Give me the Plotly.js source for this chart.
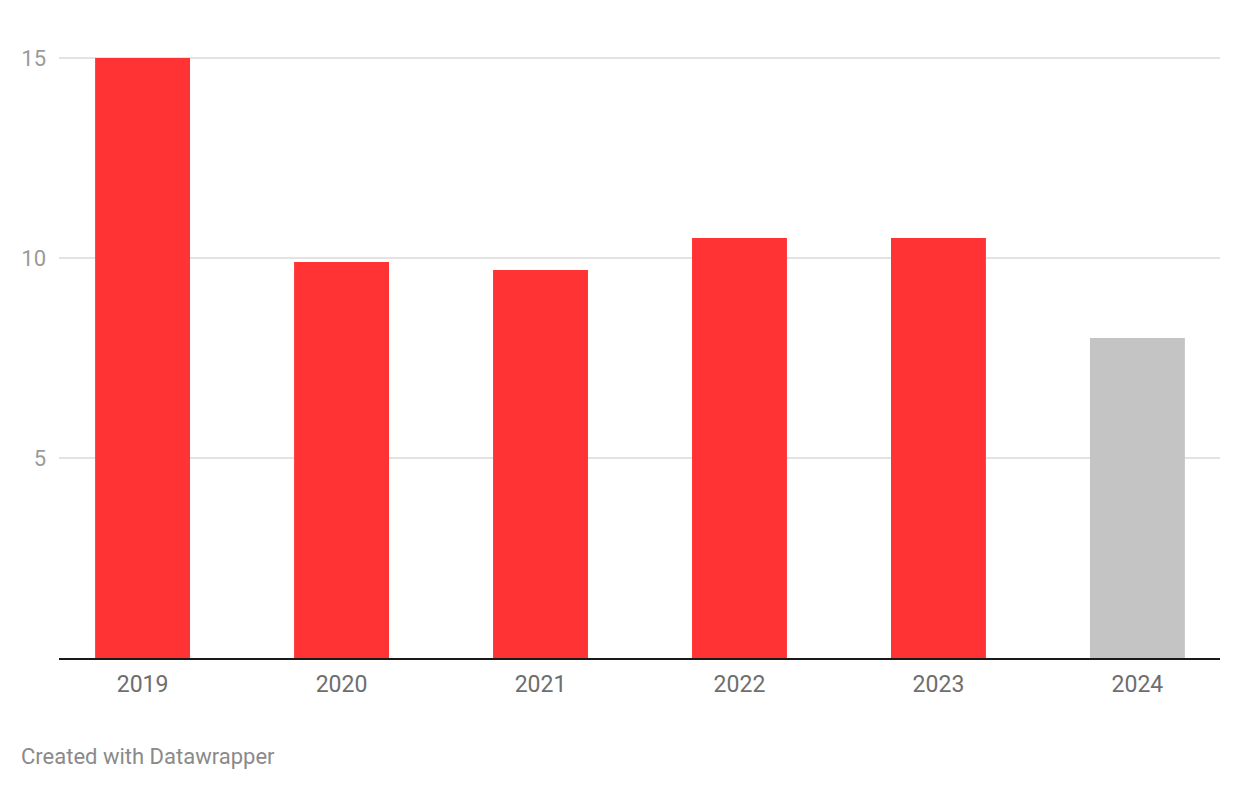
<!DOCTYPE html>
<html>
<head>
<meta charset="utf-8">
<script src="https://cdn.plot.ly/plotly-3.0.1.min.js"></script>
<style>html,body{margin:0;padding:0;background:#fff;}#chart{width:1240px;height:790px;}</style>
</head>
<body>
<div id="chart"></div>
<script>
const years = ["2019", "2020", "2021", "2022", "2023", "2024"];
const values = [15, 9.9, 9.7, 10.5, 10.5, 8.0];
const yTicks = [5, 10, 15];

const colors = years.map((y, i) => i === years.length - 1 ? "#c4c4c4" : "#ff3333");

const trace = {
  type: "bar",
  x: years,
  y: values,
  marker: { color: colors, line: { width: 0 } },
  width: 0.477,
  hoverinfo: "x+y"
};

const layout = {
  width: 1240,
  height: 790,
  margin: { l: 59, r: 20, t: 18, b: 132 },
  paper_bgcolor: "#ffffff",
  plot_bgcolor: "#ffffff",
  font: { family: "Roboto, sans-serif" },
  showlegend: false,
  xaxis: {
    type: "category",
    range: [-0.42, 5.415],
    showgrid: false,
    showline: true,
    linecolor: "#1a1a1a",
    linewidth: 2,
    ticks: "",
    ticklabelstandoff: 4,
    tickfont: { size: 23, color: "#6e6e6e", family: "Roboto, sans-serif" },
    fixedrange: true
  },
  yaxis: {
    range: [0, 16],
    tickvals: yTicks,
    ticktext: yTicks.map(String),
    showgrid: true,
    gridcolor: "#e3e3e3",
    gridwidth: 2,
    zeroline: false,
    showline: false,
    ticks: "",
    ticklabelstandoff: 12,
    tickfont: { size: 22, color: "#9a9a9a", family: "Roboto, sans-serif" },
    fixedrange: true
  },
  annotations: [{
    xref: "paper", yref: "paper",
    x: -40 / 1161, y: -(756 - 658) / 640,
    xanchor: "left", yanchor: "middle",
    text: "Created with Datawrapper",
    showarrow: false,
    font: { size: 22, color: "#8a8a8a", family: "Roboto, sans-serif" }
  }]
};

Plotly.newPlot("chart", [trace], layout, { displayModeBar: false });
</script>
</body>
</html>
